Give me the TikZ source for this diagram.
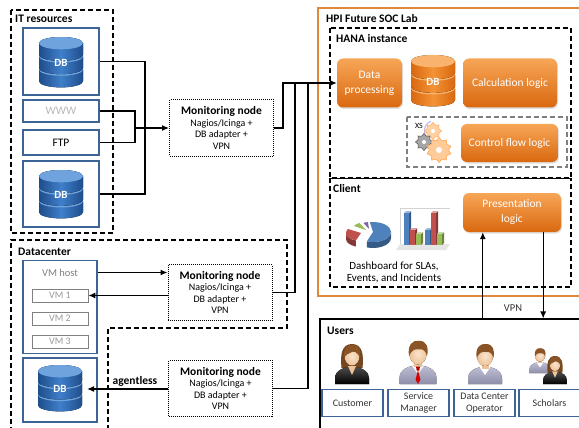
\documentclass[tikz,border=0pt]{standalone}
\usepackage{fontspec}
\setmainfont{Carlito}
\usetikzlibrary{arrows.meta,shapes.geometric,shadows,calc}

\definecolor{boxblue}{HTML}{3C6497}
\definecolor{dbtop}{HTML}{6FA3DD}
\definecolor{dbmid}{HTML}{3F7FCB}
\definecolor{dbdark}{HTML}{1E4D8A}
\definecolor{ortop}{HTML}{F9B36E}
\definecolor{ormid}{HTML}{F39236}
\definecolor{ordark}{HTML}{D9680F}
\definecolor{orlight}{HTML}{F7A657}
\definecolor{labframe}{HTML}{E0893A}
\definecolor{skin}{HTML}{F6CFA8}
\definecolor{hair}{HTML}{8A5426}
\definecolor{suitgray}{HTML}{A7A7C6}
\definecolor{softgray}{HTML}{9A9A9A}
\definecolor{chartblue}{HTML}{4F81BD}
\definecolor{chartred}{HTML}{C0504D}
\definecolor{chartgreen}{HTML}{9BBB59}
\definecolor{chartpurple}{HTML}{8064A2}

\tikzset{
  group/.style={draw, line width=1.1pt, dash pattern=on 5pt off 3pt},
  grouplabel/.style={anchor=west, font=\bfseries\fontsize{11.5}{13}\selectfont, inner sep=0},
  itbox/.style={draw=boxblue, line width=1.1pt, fill=white, inner sep=0, font=\fontsize{11.5}{13}\selectfont},
  vmbox/.style={draw=gray, line width=0.9pt, fill=white, minimum width=56, minimum height=13, inner sep=0, text=softgray, font=\fontsize{10}{11}\selectfont},
  monitor/.style={draw, densely dotted, line width=1pt, fill=white, minimum width=104, minimum height=56, align=center, inner sep=0, font=\fontsize{10}{11.5}\selectfont},
  logic/.style={rounded corners=6pt, top color=orlight, bottom color=ordark, text=white, align=center, inner sep=0, font=\fontsize{11.5}{15}\selectfont, drop shadow={opacity=0.25, shadow xshift=1pt, shadow yshift=-1.5pt}},
  userbox/.style={draw=boxblue, line width=1.1pt, fill=white, minimum width=61, minimum height=27, align=center, inner sep=0, text=black!80, font=\fontsize{10}{12}\selectfont},
  link/.style={line width=1.1pt},
  arrow/.style={line width=1.1pt, -{Latex[length=7pt,width=6pt]}},
  pics/man/.style={code={
    \fill[top color=#1!75!white, bottom color=#1!85!black]
      (-17,0) -- (-17,-6) .. controls (-17,-13) and (-10,-16) .. (-4,-17)
      -- (4,-17) .. controls (10,-16) and (17,-13) .. (17,-6) -- (17,0) -- cycle;
    \fill[white] (-5.5,-17) -- (0,-9) -- (5.5,-17) -- cycle;
    \fill[skin!85!brown] (-3.5,-20) rectangle (3.5,-15.5);
    \fill[inner color=skin!55!white, outer color=skin!85!brown] (0,-28) ellipse[x radius=8, y radius=10];
    \fill[hair] (-8.3,-26) .. controls (-10,-36) and (-5,-41) .. (1,-40)
      .. controls (8,-40) and (10,-34) .. (8.4,-26)
      .. controls (7,-31) and (4,-33) .. (1,-32)
      .. controls (-3,-33) and (-6,-31) .. (-8.3,-26) -- cycle;
  }},
  pics/woman/.style={code={
    \fill[hair!85!black] (-10.5,-16) .. controls (-12,-30) and (-10,-40) .. (0,-40)
      .. controls (10,-40) and (12,-30) .. (10.5,-16) -- cycle;
    \fill[top color=#1!70!white, bottom color=#1]
      (-17,0) -- (-17,-6) .. controls (-17,-13) and (-10,-16) .. (-4,-17)
      -- (4,-17) .. controls (10,-16) and (17,-13) .. (17,-6) -- (17,0) -- cycle;
    \fill[skin!85!brown] (-4,-18) -- (0,-9) -- (4,-18) -- cycle;
    \fill[inner color=skin!55!white, outer color=skin!85!brown] (0,-28) ellipse[x radius=7.5, y radius=9.5];
    \fill[hair] (-8,-26) .. controls (-9,-36) and (-4,-39.5) .. (1,-39.5)
      .. controls (7,-39) and (9,-35) .. (8,-26)
      .. controls (6,-32) and (1,-34) .. (-2,-31)
      .. controls (-5,-30) .. (-8,-26) -- cycle;
  }},
  pics/tie/.style={code={
    \fill[red!85!black] (0,-13) -- (-2.2,-4) -- (0,0) -- (2.2,-4) -- cycle;
    \fill[red!70!black] (-1.8,-16) -- (1.8,-16) -- (1.2,-12.5) -- (-1.2,-12.5) -- cycle;
  }},
}

% stacked database drum: name, centre x, centre y, width, height, top, body, edge colours
\newcommand\dbstack[8]{%
  \pgfmathsetmacro\dbrx{#4/2}%
  \pgfmathsetmacro\dbry{#4*0.14}%
  \pgfmathsetmacro\dbseg{(#5-2*\dbry)/3}%
  \foreach \k in {2,1,0}{%
    \pgfmathsetmacro\dbtopy{#3-#5/2+\dbry+\k*\dbseg}%
    \pgfmathsetmacro\dbboty{\dbtopy+\dbseg-1.6}%
    \fill[left color=#8, right color=#8, middle color=#7]
      (#2-\dbrx,\dbtopy) -- (#2-\dbrx,\dbboty)
      arc[start angle=180, end angle=0, x radius=\dbrx, y radius=\dbry]
      -- (#2+\dbrx,\dbtopy)
      arc[start angle=0, end angle=-180, x radius=\dbrx, y radius=\dbry] -- cycle;
    \fill[#6] (#2,\dbtopy) ellipse[x radius=\dbrx, y radius=\dbry];
  }%
  \node[inner sep=0, minimum width=#4, minimum height=#5, text=white,
        font=\bfseries\fontsize{11}{12}\selectfont] (#1) at (#2,#3) {DB};%
}

% one 3-D column of the bar chart: left x, top y, colour
\newcommand\chartbar[3]{%
  \fill[#3!70!black] (#1+5,#2) -- (#1+7,#2-2) -- (#1+7,243) -- (#1+5,245) -- cycle;
  \fill[#3!55!white] (#1,#2) -- (#1+2,#2-2) -- (#1+7,#2-2) -- (#1+5,#2) -- cycle;
  \fill[#3] (#1,#2) rectangle (#1+5,245);
}

\newcommand\montext{{\bfseries\fontsize{11.5}{13}\selectfont Monitoring node}\\Nagios/Icinga +\\DB adapter +\\VPN}

\begin{document}
\begin{tikzpicture}[x=1pt,y=-1pt]
\useasboundingbox (0,0) rectangle (579,428);
\clip (0,0) rectangle (579,428);
\fill[white] (0,0) rectangle (579,428);

% ---------- IT resources ----------
\draw[group] (11,10) rectangle (113,233);
\node[grouplabel] (itlabel) at (15,19) {IT resources};
\node[itbox, minimum width=76, minimum height=67] (db1) at (61,61.5) {};
\dbstack{dbi1}{61}{63}{44}{52}{dbtop}{dbmid}{dbdark}
\node[itbox, minimum width=76, minimum height=22, text=softgray!70] (www) at (61,111) {WWW};
\node[itbox, minimum width=76, minimum height=25] (ftp) at (61,142.5) {FTP};
\node[itbox, minimum width=76, minimum height=66] (db2) at (61,194) {};
\dbstack{dbi2}{61}{195}{44}{50}{dbtop}{dbmid}{dbdark}

\node[monitor] (mon1) at (221.5,128) {\montext};
\coordinate (j1) at (145,128);
\coordinate (j2) at (135,128);
\draw[link] (db1.east) -| (j1);
\draw[link] (db2.east) -| (j1);
\draw[link] (www.east) -| (j2);
\draw[link] (ftp.east) -| (j2);
\draw[arrow] (j2) -- (mon1.west);

% ---------- Datacenter ----------
\draw[group] (11,440) -- (11,240) -- (287,240) -- (287,328) -- (108,328) -- (108,440);
\node[grouplabel] (dclabel) at (18,252) {Datacenter};
\node[itbox, minimum width=74, minimum height=93] (vmhost) at (60,307) {};
\node[text=gray, font=\fontsize{10.5}{12}\selectfont] (vmhostlabel) at (60,272.5) {VM host};
\node[vmbox] (vm1) at (60,295.5) {VM 1};
\node[vmbox] (vm2) at (60,318.5) {VM 2};
\node[vmbox] (vm3) at (60,341.5) {VM 3};
\node[itbox, minimum width=74, minimum height=64] (db3) at (60,390) {};
\dbstack{dbi3}{60}{389}{44}{48}{dbtop}{dbmid}{dbdark}

\node[monitor] (mon2) at (220,292.5) {\montext};
\node[monitor] (mon3) at (220.5,388.5) {\montext};
\draw[arrow] (vmhostlabel -| vmhost.east) -- (vmhostlabel -| mon2.west);
\draw[arrow] (mon2.west |- vm1) -- (vm1.east);
\draw[arrow, shorten >=5pt] (mon3.west |- dbi3) -- (dbi3.east);
\node[font=\bfseries\fontsize{11.5}{13}\selectfont, anchor=south, inner sep=1pt] (agentless) at (135,388) {agentless};

% ---------- HPI Future SOC Lab ----------
\draw[labframe, line width=1.3pt] (318,8) rectangle (600,296);
\node[grouplabel] (hpilabel) at (326,19) {HPI Future SOC Lab};
\draw[group] (330,28) rectangle (571,178);
\node[grouplabel] (hanalabel) at (336,39) {HANA instance};
\draw[group] (330,178) -- (330,287) -- (571,287) -- (571,178);
\draw[line width=1pt] (330,178) -- (571,178);
\node[grouplabel] (clientlabel) at (333,189) {Client};

\node[logic, minimum width=65, minimum height=49] (dp) at (369.5,83) {Data\\processing};
\dbstack{dbo}{433}{81.5}{44}{53}{ortop}{ormid}{ordark}
\node[logic, minimum width=94, minimum height=49] (calc) at (510,83) {Calculation logic};

\draw[gray, line width=1.1pt, dash pattern=on 5pt off 3pt] (407,117) rectangle (567,167);
\node[logic, minimum width=97, minimum height=38] (cfl) at (509.5,143) {Control flow logic};

% XS engine cogs
\draw[blue!25, line width=1.2pt] (445,158) arc[start angle=20, end angle=-120, radius=13];
\draw[blue!25, line width=1.2pt] (425,134) arc[start angle=160, end angle=250, radius=10];
\node[font=\fontsize{8}{9}\selectfont, inner sep=0] (xs) at (419,126) {XS};
\node[star, star points=8, star point ratio=1.35, minimum size=17, fill=orange!35, draw=orange!70, line width=0.5pt, inner sep=0] (cog1) at (433,131) {};
\node[star, star points=8, star point ratio=1.35, minimum size=17, fill=gray!70, draw=black!70, line width=0.5pt, inner sep=0] (cog2) at (424,142) {};
\node[star, star points=10, star point ratio=1.3, minimum size=25, fill=orange!40, draw=orange!75, line width=0.5pt, inner sep=0] (cog3) at (439,150) {};
\fill[white] (433,131) circle (2);
\fill[white] (424,142) circle (2);
\fill[white] (439,150) circle (3);

% dashboard pie chart
\begin{scope}[shift={(370,232)}, yscale=-1]
  \fill[chartred!70!black] ($(-9,-1)+(180:15 and 8)$) arc[start angle=180, end angle=250, x radius=15, y radius=8] -- ++(0,-6) arc[start angle=250, end angle=180, x radius=15, y radius=8] -- cycle;
  \fill[chartred] (-9,-1) -- ++(150:15 and 8) arc[start angle=150, end angle=250, x radius=15, y radius=8] -- cycle;
  \fill[chartblue!70!black] ($(3,0)+(-110:18 and 10)$) arc[start angle=-110, end angle=0, x radius=18, y radius=10] -- ++(0,-6) arc[start angle=0, end angle=-110, x radius=18, y radius=10] -- cycle;
  \fill[chartblue] (3,0) -- ++(-110:18 and 10) arc[start angle=-110, end angle=100, x radius=18, y radius=10] -- cycle;
  \fill[chartgreen] (-4,2) -- ++(118:14 and 8) arc[start angle=118, end angle=150, x radius=14, y radius=8] -- cycle;
  \fill[chartpurple] (-1,3) -- ++(95:12 and 7) arc[start angle=95, end angle=118, x radius=12, y radius=7] -- cycle;
\end{scope}

% dashboard bar chart
\fill[gray!20] (396,250) -- (446,250) -- (450,244) -- (400,244) -- cycle;
\draw[gray!35, line width=0.8pt] (400,244) -- (400,208) -- (450,208);
\chartbar{404}{213}{chartblue}
\chartbar{410}{230}{chartred}
\chartbar{416}{234}{chartgreen}
\chartbar{425}{230}{chartblue}
\chartbar{431}{213}{chartred}
\chartbar{437}{234}{chartgreen}

\node[align=center, font=\fontsize{11}{12}\selectfont, inner sep=0] (dash) at (394,272.5) {Dashboard for SLAs,\\Events, and Incidents};

\node[logic, minimum width=98, minimum height=39] (pres) at (512,212.5) {Presentation\\logic};

% ---------- Users ----------
\node[draw, line width=1.1pt, fill=white, minimum width=280, minimum height=121, inner sep=0] (users) at (460,379.5) {};
\node[grouplabel] (userslabel) at (327,331) {Users};

\coordinate (pa) at ($(pres.south west)+(20,0)$);
\coordinate (pb) at ($(pres.south east)+(-18,0)$);
\draw[arrow] (pa |- users.north) -- (pa);
\draw[arrow] (pb) -- (pb |- users.north);
\node[font=\fontsize{10.5}{12}\selectfont, text=black!80] (vpn) at (513,308) {VPN};

\pic at (352,384) {woman=black};
\pic[scale=1.08] at (418,384) {man=suitgray};
\pic[scale=1.08] at (418,384) {tie};
\pic at (485,384) {man=suitgray};
\pic[scale=0.62] at (540,373) {man=suitgray};
\pic[scale=0.7] at (555,384) {woman=black};

\node[userbox] (customer) at (352.5,403) {Customer};
\node[userbox] (manager) at (418.5,403) {Service\\Manager};
\node[userbox] (operator) at (484.5,403) {Data Center\\Operator};
\node[userbox] (scholars) at (549.5,403) {Scholars};

% ---------- monitoring uplinks ----------
\coordinate (bus1) at (283,83);
\coordinate (bus2) at (295,83);
\coordinate (bus3) at (308,83);
\draw[link] (mon2.east) -| (bus2);
\draw[link] (mon3.east) -| (bus3);
\draw[arrow] (mon1.east) -| (bus1) -- (dp.west);
\end{tikzpicture}
\end{document}
